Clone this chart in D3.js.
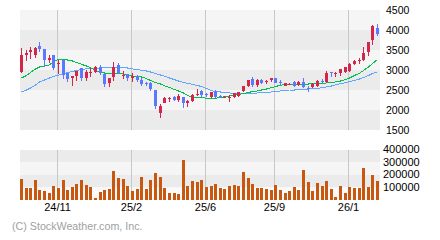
<!DOCTYPE html>
<html>
<head>
<meta charset="utf-8">
<script src="https://cdn.jsdelivr.net/npm/d3@7"></script>
<style>
  body { margin: 0; background: #fff; }
  text { font-family: "Liberation Sans", Arial, sans-serif; }
</style>
</head>
<body>
<svg id="chart" width="440" height="240"></svg>
<script>
// weekly candles
var opens  = [2958,3367,3450,3375,3600,3525,3250,3375,3150,3250,2917,2808,2850,3050,2808,2940,2958,3083,2900,2683,
              2833,3125,2860,2892,2810,2850,2750,2680,2683,2500,1917,2183,2280,2333,2250,2333,2167,2225,2390,2475,
              2390,2317,2483,2350,2320,2310,2325,2350,2470,2600,2770,2625,2760,2700,2740,2792,2700,2608,2640,2692,
              2625,2708,2550,2567,2608,2720,2708,2940,2910,2917,2958,2975,3150,3240,3250,3458,3750,4042];
var highs  = [3558,3500,3575,3575,3700,3525,3375,3375,3250,3250,2917,2858,2983,3050,3008,3058,3108,3117,2900,2800,
              3200,3167,2975,2892,2917,2875,2800,2708,2700,2500,2150,2333,2333,2350,2400,2333,2250,2400,2517,2500,
              2417,2458,2500,2375,2350,2370,2433,2458,2600,2750,2817,2783,2780,2750,2808,2792,2750,2683,2683,2733,
              2717,2808,2600,2667,2750,2767,2975,2942,2942,3017,3083,3167,3250,3300,3575,3700,4125,4150];
var lows   = [2917,3233,3267,3308,3450,3067,3167,3008,2900,2775,2692,2608,2733,2733,2733,2833,2925,2875,2567,2567,
              2733,2900,2775,2717,2708,2708,2592,2608,2467,2017,1792,2167,2208,2217,2200,2042,2067,2200,2350,2333,
              2333,2308,2308,2308,2292,2200,2308,2333,2442,2567,2583,2583,2640,2650,2692,2667,2625,2600,2617,2583,
              2600,2542,2458,2542,2583,2667,2683,2817,2817,2842,2933,2958,3125,3150,3233,3358,3625,3850];
var closes = [3375,3433,3492,3542,3525,3250,3300,3042,3175,2875,2775,2858,2983,2808,2958,2960,3083,2917,2650,2800,
              3083,2933,2880,2808,2840,2750,2650,2660,2517,2100,2100,2308,2300,2250,2350,2167,2225,2375,2400,2375,
              2375,2442,2333,2330,2330,2325,2417,2442,2600,2750,2625,2750,2675,2720,2792,2675,2683,2667,2650,2608,
              2692,2567,2540,2650,2725,2700,2933,2930,2925,3017,3083,3160,3225,3260,3425,3700,4108,3900];
var volumes = [168000,96000,96000,160000,80000,72000,56000,112000,96000,160000,80000,104000,128000,160000,120000,104000,16000,64000,80000,88000,
               232000,176000,168000,112000,72000,88000,184000,88000,160000,216000,184000,96000,56000,56000,48000,320000,112000,152000,144000,160000,
               104000,112000,128000,96000,88000,112000,120000,112000,224000,176000,128000,96000,96000,88000,80000,120000,80000,56000,72000,104000,
               80000,240000,144000,72000,136000,112000,152000,88000,24000,112000,56000,104000,96000,96000,256000,104000,200000,152000];
// moving averages as drawn (short = green, long = blue)
var maShort = [2800,2862,2938,3025,3075,3100,3125,3212,3267,3265,3250,3225,3188,3142,3100,3058,2988,2938,2925,2925,
               2918,2918,2900,2875,2850,2833,2825,2785,2738,2683,2650,2608,2562,2512,2475,2425,2362,2330,2312,2308,
               2295,2292,2295,2312,2333,2350,2368,2388,2412,2438,2462,2475,2500,2525,2558,2588,2618,2642,2650,2650,
               2650,2650,2650,2655,2662,2668,2675,2683,2700,2725,2762,2800,2862,2920,2988,3075,3162,3262];
var maLong  = [2450,2500,2550,2625,2700,2750,2800,2838,2870,2900,2938,2962,2988,3012,3032,3045,3050,3050,3058,3062,
               3062,3062,3058,3050,3025,3012,2992,2975,2950,2912,2875,2845,2800,2758,2725,2692,2668,2642,2612,2588,
               2538,2482,2462,2450,2432,2425,2418,2412,2412,2412,2418,2425,2432,2442,2450,2458,2475,2492,2500,2500,
               2508,2515,2525,2532,2542,2558,2575,2600,2632,2655,2682,2712,2742,2775,2812,2862,2912,2958];
var dateIdx = [8, 24, 40, 55, 71];
var dateLabels = ['24/11', '25/2', '25/6', '25/9', '26/1'];
var priceTicks = [1500, 2000, 2500, 3000, 3500, 4000, 4500];
var volTicks = [0, 100000, 200000, 300000, 400000];

var svg = d3.select('#chart');
var left = 20, right = 380;

var x = d3.scaleBand().domain(d3.range(opens.length)).range([left, right - 1]).paddingInner(0.35).paddingOuter(0);
var y = d3.scaleLinear().domain([1500, 4500]).range([130, 10]);
var vy = d3.scaleLinear().domain([0, 400000]).range([200, 150]);

function bx(i) { return Math.round(x(i)); }

// background bands
svg.append('g').selectAll('rect').data(d3.pairs(priceTicks.slice().reverse())).join('rect')
  .attr('x', left).attr('width', right - left)
  .attr('y', d => y(d[0])).attr('height', d => y(d[1]) - y(d[0]))
  .attr('fill', (d, i) => i % 2 ? '#ebebeb' : '#f5f5f5');
svg.append('g').selectAll('rect').data(d3.pairs(volTicks.slice().reverse())).join('rect')
  .attr('x', left).attr('width', right - left)
  .attr('y', d => vy(d[0])).attr('height', d => vy(d[1]) - vy(d[0]))
  .attr('fill', (d, i) => i % 2 ? (i == 3 ? '#fafafa' : '#f5f5f5') : '#ebebeb');

// vertical grid
var grid = svg.append('g').attr('stroke', '#c8c8c8').attr('shape-rendering', 'crispEdges');
dateIdx.forEach(function (i) {
  var gx = bx(i) + 0.5;
  grid.append('line').attr('x1', gx).attr('x2', gx).attr('y1', 10).attr('y2', 130);
  grid.append('line').attr('x1', gx).attr('x2', gx).attr('y1', 150).attr('y2', 200);
});

// moving averages
var line = d3.line().x((d, i) => bx(i) + 1.5).y(d => y(d));
svg.append('path').datum(maLong).attr('d', line).attr('fill', 'none')
  .attr('stroke', '#5ea6ff').attr('stroke-width', 1).attr('shape-rendering', 'crispEdges');
svg.append('path').datum(maShort).attr('d', line).attr('fill', 'none')
  .attr('stroke', '#00c04e').attr('stroke-width', 1).attr('shape-rendering', 'crispEdges');

// candles
var candles = svg.append('g').attr('shape-rendering', 'crispEdges');
opens.forEach(function (o, i) {
  var c = closes[i];
  var col = c >= o ? '#d4254b' : '#5b78ff';
  var x0 = bx(i);
  var yh = Math.round(y(highs[i])), yl = Math.round(y(lows[i]));
  var yt = Math.round(y(Math.max(o, c))), yb = Math.round(y(Math.min(o, c)));
  candles.append('rect').attr('x', x0 + 1).attr('width', 1)
    .attr('y', yh).attr('height', Math.max(1, yl - yh)).attr('fill', col);
  candles.append('rect').attr('x', x0).attr('width', 3)
    .attr('y', yt).attr('height', Math.max(1, yb - yt)).attr('fill', col);
});

// volume bars
svg.append('g').attr('shape-rendering', 'crispEdges').selectAll('rect').data(volumes).join('rect')
  .attr('x', (d, i) => bx(i)).attr('width', 3)
  .attr('y', d => Math.round(vy(d))).attr('height', d => 200 - Math.round(vy(d)))
  .attr('fill', '#c8570f');

// axes
var pAxis = svg.append('g').attr('transform', 'translate(' + right + ',0)')
  .call(d3.axisRight(y).tickValues(priceTicks).tickSize(0).tickPadding(6).tickFormat(d3.format('d')));
pAxis.select('.domain').remove();
pAxis.selectAll('text').attr('font-size', '10.5px').attr('fill', '#000')
  .style('font-family', '"Liberation Sans", Arial, sans-serif');

var vAxis = svg.append('g').attr('transform', 'translate(' + right + ',0)')
  .call(d3.axisRight(vy).tickValues(volTicks.slice(1)).tickSize(0).tickPadding(3).tickFormat(d3.format('d')));
vAxis.select('.domain').remove();
vAxis.selectAll('text').attr('font-size', '11px').attr('fill', '#000').attr('dy', '0.25em')
  .style('font-family', '"Liberation Sans", Arial, sans-serif');

svg.append('g').selectAll('text').data(dateIdx).join('text')
  .attr('x', d => bx(d) + 0.5).attr('y', 211)
  .attr('text-anchor', 'middle').attr('font-size', '11px').attr('fill', '#000')
  .text((d, i) => dateLabels[i]);

svg.append('text').attr('x', 12).attr('y', 230)
  .attr('font-size', '10.7px').attr('fill', '#a0a0a0')
  .text('(C) StockWeather.com, Inc.');
</script>
</body>
</html>
